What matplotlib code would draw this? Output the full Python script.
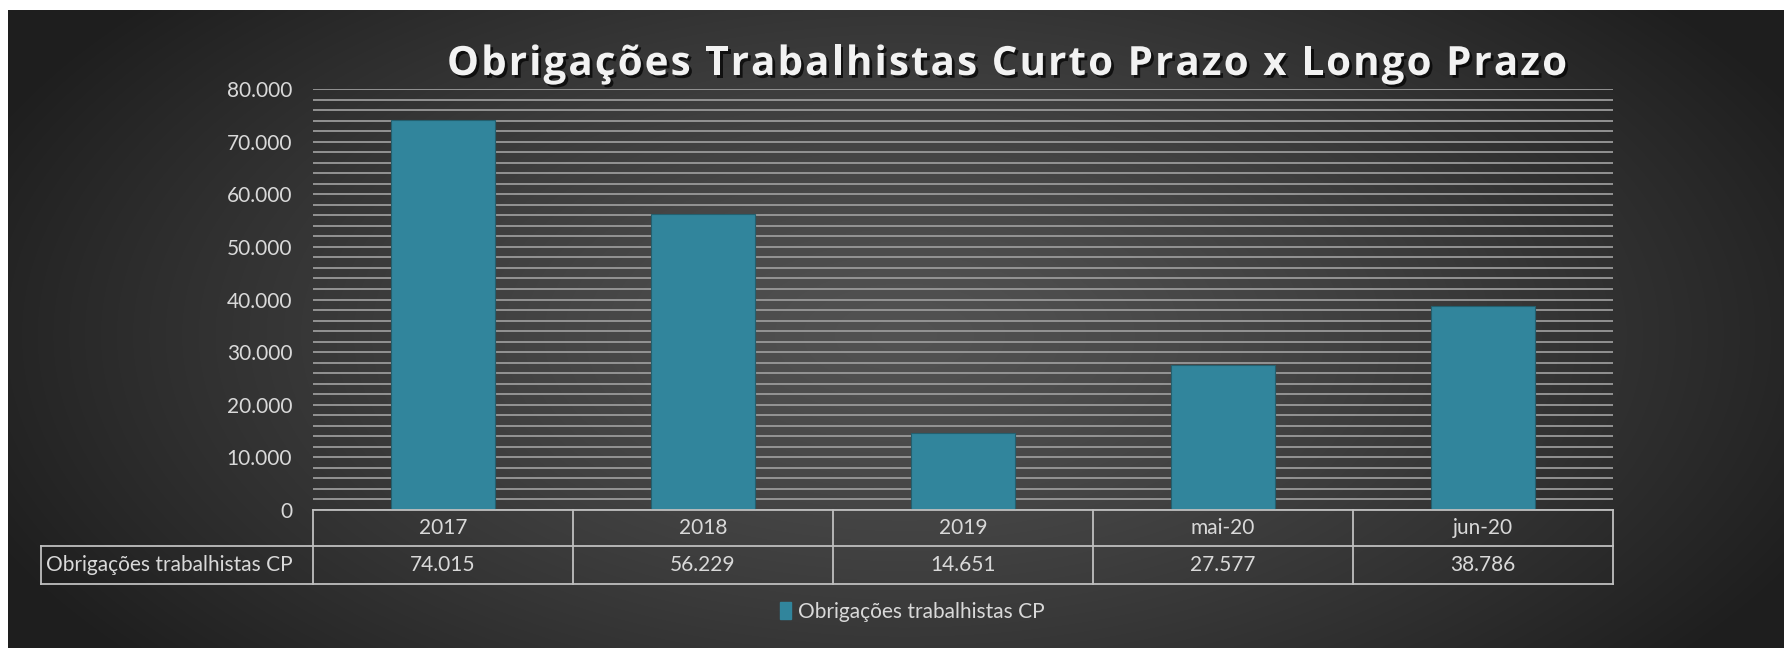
import numpy as np
import matplotlib
matplotlib.use("Agg")
from matplotlib import pyplot as plt
from matplotlib import transforms, font_manager
from matplotlib.ft2font import FT2Font
from matplotlib.patches import Patch
import matplotlib.patheffects as pe

# data
categories = ["2017", "2018", "2019", "mai-20", "jun-20"]
values = [74015, 56229, 14651, 27577, 38786]
value_labels = ["74.015", "56.229", "14.651", "27.577", "38.786"]
series_name = "Obrigações trabalhistas CP"
title = "Obrigações Trabalhistas Curto Prazo x Longo Prazo"

W, H = 1784, 648
bar_color = "#31859c"
grid_color = "#9a9a9a"
text_color = "#d9d9d9"
line_color = "#bfbfbf"

plt.rcParams["font.family"] = ["Lato", "DejaVu Sans"]

fig = plt.figure(figsize=(W / 100, H / 100), dpi=100, facecolor="white")

# dark radial background (white strip on top/left like the screenshot)
bg = fig.add_axes([8 / W, 0, 1 - 8 / W, 1 - 10 / H])
yy, xx = np.mgrid[0:H, 0:W]
r = np.sqrt(((xx - 900) / 1000.0) ** 2 + ((yy - 330) / 520.0) ** 2)
r = np.clip(r, 0, 1)
shade = 0.32 - 0.20 * r ** 1.3
bg.imshow(np.dstack([shade, shade, shade]), aspect="auto", extent=[0, 1, 0, 1])
bg.axis("off")

ax = fig.add_axes([313 / W, 1 - 510 / H, 1300 / W, 421 / H])
ax.patch.set_alpha(0)
x = np.arange(len(categories))
ax.bar(x, values, width=0.4, color=bar_color, edgecolor="#23606f", linewidth=0.8, zorder=3)
ax.set_xlim(-0.5, len(categories) - 0.5)
ax.set_ylim(0, 80000)
ax.set_yticks(np.arange(0, 80001, 10000))
ax.set_yticks(np.arange(0, 80001, 2000), minor=True)
ax.set_yticklabels(["0"] + ["{:,}".format(v).replace(",", ".") for v in range(10000, 80001, 10000)])
ax.grid(axis="y", which="both", color=grid_color, linewidth=1.3, zorder=0)
ax.tick_params(axis="y", which="both", length=0, pad=15, labelsize=15, labelcolor=text_color)
ax.set_xticks([])
for s in ax.spines.values():
    s.set_visible(False)

# data table under the axis
trans = transforms.blended_transform_factory(ax.transData, ax.transAxes)
r1 = -36 / 421
r2 = -74 / 421
left = -0.5 - 272 / 260.0
n = len(categories)
lk = dict(color=line_color, linewidth=1.3, clip_on=False, zorder=5)
ax.plot([-0.5, n - 0.5], [0, 0], transform=trans, **lk)
ax.plot([left, n - 0.5], [r1, r1], transform=trans, **lk)
ax.plot([left, n - 0.5], [r2, r2], transform=trans, **lk)
ax.plot([left, left], [r1, r2], transform=trans, **lk)
for i in range(n + 1):
    ax.plot([i - 0.5, i - 0.5], [0, r2], transform=trans, **lk)
for i in range(n):
    ax.text(x[i], r1 / 2, categories[i], transform=trans, ha="center", va="center",
            fontsize=15, color=text_color)
    ax.text(x[i], (r1 + r2) / 2, value_labels[i], transform=trans, ha="center", va="center",
            fontsize=15, color=text_color)
ax.text(left + 0.02, (r1 + r2) / 2, series_name, transform=trans, ha="left", va="center",
        fontsize=15, color=text_color)

# title, letter-spaced like the original: place char by char
tsize = 29
tprop = font_manager.FontProperties(family="Open Sans", weight="bold")
ft = FT2Font(font_manager.findfont(tprop))
ft.set_size(tsize, 100)
adv = [ft.load_char(ord(c)).linearHoriAdvance / 65536 for c in title]
target_w = 1120
spacing = max(0, (target_w - sum(adv)) / (len(title) - 1))
xpos = 1007 - (sum(adv) + spacing * (len(title) - 1)) / 2
shadow = [pe.SimplePatchShadow(offset=(2, -2), shadow_rgbFace="black", alpha=0.7), pe.Normal()]
for c, a in zip(title, adv):
    if c != " ":
        fig.text((xpos + a / 2) / W, 1 - 75 / H, c, ha="center", va="baseline",
                 fontsize=tsize, fontproperties=tprop, color="#f2f2f2", path_effects=shadow)
    xpos += a + spacing

# legend
fig.legend(handles=[Patch(color=bar_color, label=series_name)], loc="center",
           bbox_to_anchor=(912 / W, 1 - 612 / H), frameon=False, fontsize=15,
           labelcolor=text_color, handlelength=0.55, handleheight=0.9, handletextpad=0.3)

fig.savefig("out.png", dpi=100, facecolor=fig.get_facecolor())
